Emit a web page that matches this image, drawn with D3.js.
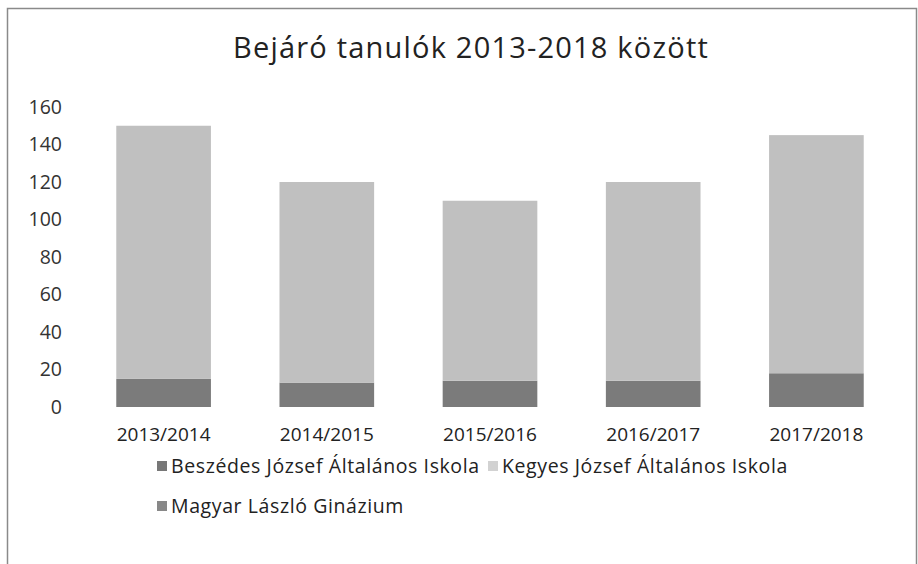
<html>
<head>
<meta charset="utf-8">
<title>Bejáró tanulók</title>
<script src="https://d3js.org/d3.v7.min.js"></script>
<style>
  body { margin: 0; background: #fff; }
  text { font-family: "Open Sans", "Noto Sans", sans-serif; fill: #333; }
</style>
</head>
<body>
<script>
var years = ["2013/2014", "2014/2015", "2015/2016", "2016/2017", "2017/2018"];
var seriesNames = ["Beszédes József Általános Iskola", "Kegyes József Általános Iskola", "Magyar László Ginázium"];
var beszedes = [15, 13, 14, 14, 18];
var kegyes = [135, 107, 96, 106, 127];
var magyar = [0, 0, 0, 0, 0];
var yTicks = [0, 20, 40, 60, 80, 100, 120, 140, 160];

var width = 918, height = 564;
var colors = ["#7b7b7b", "#c0c0c0", "#8a8a8a"];
var legendColors = ["#777", "#d2d2d2", "#888"];

var svg = d3.select("body").append("svg")
  .attr("width", width)
  .attr("height", height);

// keret (a szkennelt kepen a bal es felso el latszik)
svg.append("rect")
  .attr("x", 7.5).attr("y", 8.5)
  .attr("width", width - 9).attr("height", height + 20)
  .attr("fill", "none")
  .attr("stroke", "#8a8a8a")
  .attr("stroke-width", 1.5);

svg.append("text")
  .text("Bejáró tanulók 2013-2018 között")
  .attr("x", 471).attr("y", 58)
  .attr("text-anchor", "middle")
  .attr("font-size", "29px")
  .attr("letter-spacing", "1.2px")
  .style("fill", "#222");

var x = d3.scaleBand().domain(years).range([82, 898]).paddingInner(0.42).paddingOuter(0.21);
var y = d3.scaleLinear().domain([0, 160]).range([407, 107]);

var rows = years.map(function(yr, i) {
  return { year: yr, b: beszedes[i], k: kegyes[i], m: magyar[i] };
});
var stack = d3.stack().keys(["b", "k", "m"]);
var layers = stack(rows);

svg.append("g").selectAll("g")
  .data(layers)
  .enter().append("g")
  .attr("fill", function(d, i) { return colors[i]; })
  .selectAll("rect")
  .data(function(d) { return d; })
  .enter().append("rect")
  .attr("x", function(d) { return x(d.data.year); })
  .attr("y", function(d) { return y(d[1]); })
  .attr("width", x.bandwidth())
  .attr("height", function(d) { return y(d[0]) - y(d[1]); });

var yAxis = svg.append("g")
  .attr("transform", "translate(62,0)")
  .call(d3.axisLeft(y).tickValues(yTicks).tickSize(0).tickPadding(0));
yAxis.select(".domain").remove();
yAxis.selectAll("text")
  .attr("font-size", "19.5px")
  .style("font-family", "Open Sans, Noto Sans, sans-serif")
  .style("fill", "#333");

var xAxis = svg.append("g")
  .attr("transform", "translate(0,422)")
  .call(d3.axisBottom(x).tickSize(0).tickPadding(0));
xAxis.select(".domain").remove();
xAxis.selectAll("text")
  .attr("dy", "1em")
  .attr("font-size", "19px")
  .style("font-family", "Open Sans, Noto Sans, sans-serif")
  .style("fill", "#222");

// jelmagyarazat
var legendPos = [[157, 466], [488, 466], [157, 506]];
var legend = svg.append("g").selectAll("g")
  .data(seriesNames)
  .enter().append("g")
  .attr("transform", function(d, i) { return "translate(" + legendPos[i][0] + "," + legendPos[i][1] + ")"; });
legend.append("rect")
  .attr("x", 0).attr("y", -5)
  .attr("width", 10).attr("height", 10)
  .attr("fill", function(d, i) { return legendColors[i]; });
legend.append("text")
  .text(function(d) { return d; })
  .attr("x", 14).attr("y", 0)
  .attr("dy", "0.35em")
  .attr("font-size", "19.5px")
  .attr("letter-spacing", "0.6px")
  .style("fill", "#222");
</script>
</body>
</html>
